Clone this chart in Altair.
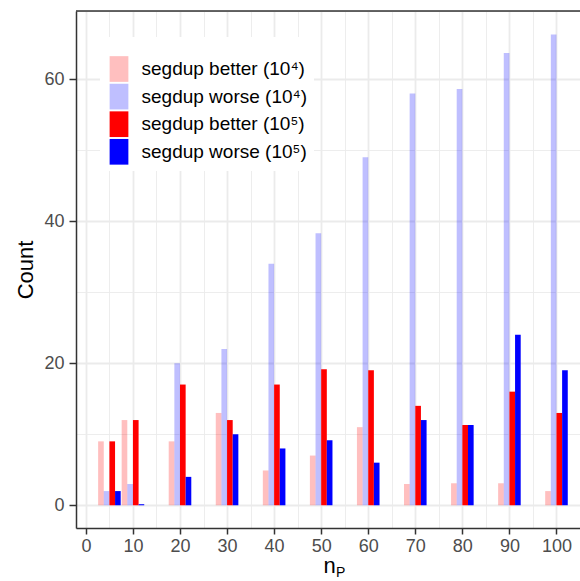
import altair as alt
import pandas as pd

# ---- data ----
n_values = [5, 10, 20, 30, 40, 50, 60, 70, 80, 90, 100]
better_1e4 = [9, 12, 9, 13, 4.9, 7, 11, 3, 3.1, 3.1, 2]
worse_1e4 = [2, 3, 20, 22, 34, 38.3, 49, 58, 58.6, 63.7, 66.3]
better_1e5 = [9, 12, 17, 12, 17, 19.15, 19, 14, 11.3, 16, 13]
worse_1e5 = [2, 0.15, 4, 10, 8, 9.15, 6, 12, 11.3, 24, 19]

series_names = [
    "segdup better (10⁴)",
    "segdup worse (10⁴)",
    "segdup better (10⁵)",
    "segdup worse (10⁵)",
]
series_values = [better_1e4, worse_1e4, better_1e5, worse_1e5]
series_colors = ["rgba(255,0,0,0.25)", "rgba(0,0,255,0.25)", "#FF0000", "#0000FF"]

rows = []
for idx, (name, vals) in enumerate(zip(series_names, series_values)):
    for n, v in zip(n_values, vals):
        rows.append({"n": n, "count": v, "series": name, "idx": idx})
df = pd.DataFrame(rows)

FONT = "Liberation Sans"
W, H = 504, 517
BAR_W = 1.2

major_x = "datum.value % 10 === 0"
major_y = "datum.value % 20 === 0"

bars = (
    alt.Chart(df)
    .transform_calculate(
        x0=f"datum.n + (-1.8 + {BAR_W} * datum.idx) - {BAR_W / 2}",
        x1=f"datum.n + (-1.8 + {BAR_W} * datum.idx) + {BAR_W / 2}",
    )
    .mark_rect(clip=True)
    .encode(
        x=alt.X(
            "x0:Q",
            scale=alt.Scale(domain=[-2.1, 105.0], nice=False, zero=False),
            axis=alt.Axis(
                values=list(range(0, 101, 5)),
                labelExpr=f"{major_x} ? datum.label : ''",
                labelFlush=False,
                labelOverlap=False,
                tickOpacity={"condition": {"test": major_x, "value": 1}, "value": 0},
                gridWidth={"condition": {"test": major_x, "value": 1.8}, "value": 0.9},
                gridColor="#EBEBEB",
                domainColor="#333333",
                domainWidth=1.5,
                tickColor="#333333",
                tickWidth=1.5,
                tickSize=6,
                labelFont=FONT,
                labelFontSize=18,
                labelColor="#4D4D4D",
                labelPadding=3,
                title="n",
                titleFont=FONT,
                titleFontSize=22,
                titleFontWeight="normal",
                titleColor="black",
                titleX=253,
                titleY=44,
                titleAlign="center",
                titleBaseline="alphabetic",
            ),
        ),
        x2="x1:Q",
        y=alt.Y(
            "count:Q",
            scale=alt.Scale(domain=[-3.2, 69.6], nice=False, zero=False),
            axis=alt.Axis(
                values=list(range(0, 61, 10)),
                labelExpr=f"{major_y} ? datum.label : ''",
                labelOverlap=False,
                tickOpacity={"condition": {"test": major_y, "value": 1}, "value": 0},
                gridWidth={"condition": {"test": major_y, "value": 1.8}, "value": 0.9},
                gridColor="#EBEBEB",
                domainColor="#333333",
                domainWidth=1.5,
                tickColor="#333333",
                tickWidth=1.5,
                tickSize=7,
                labelFont=FONT,
                labelFontSize=18,
                labelColor="#4D4D4D",
                labelPadding=5,
                title="Count",
                titleFont=FONT,
                titleFontSize=22,
                titleFontWeight="normal",
                titleColor="black",
                titleAngle=270,
                titleX=-51,
                titleY=H / 2,
                titleAlign="center",
                titleBaseline="middle",
            ),
        ),
        y2=alt.datum(0),
        color=alt.Color(
            "series:N",
            scale=alt.Scale(domain=series_names, range=series_colors),
            legend=alt.Legend(
                title=" ",
                titleFontSize=12,
                titlePadding=1,
                orient="none",
                legendX=24,
                legendY=26,
                fillColor="white",
                padding=6,
                symbolType="M-0.73,-1H0.73V1H-0.73Z",
                symbolSize=660,
                symbolStrokeWidth=0,
                symbolOpacity=1,
                labelFont=FONT,
                labelFontSize=19,
                labelColor="black",
                labelOffset=9.5,
                labelLimit=400,
                rowPadding=1.6,
            ),
        ),
    )
)

top_border = (
    alt.Chart(pd.DataFrame({"a": [0]}))
    .mark_rule(color="#333333", strokeWidth=1.5)
    .encode(x=alt.value(0), x2=alt.value(W), y=alt.value(0))
)

subscript = (
    alt.Chart(pd.DataFrame({"a": [0]}))
    .mark_text(text="P", font=FONT, fontSize=14, align="left", baseline="alphabetic", color="black")
    .encode(x=alt.value(260), y=alt.value(566))
)

chart = (
    alt.layer(bars, top_border, subscript)
    .properties(
        width=W,
        height=H,
        padding={"left": 76, "top": 11, "right": 0, "bottom": 53},
        autosize=alt.AutoSizeParams(type="none"),
    )
    .configure_view(stroke=None)
    .configure(font=FONT)
)

chart.save("out.html", embed_options={"renderer": "svg", "actions": False})
